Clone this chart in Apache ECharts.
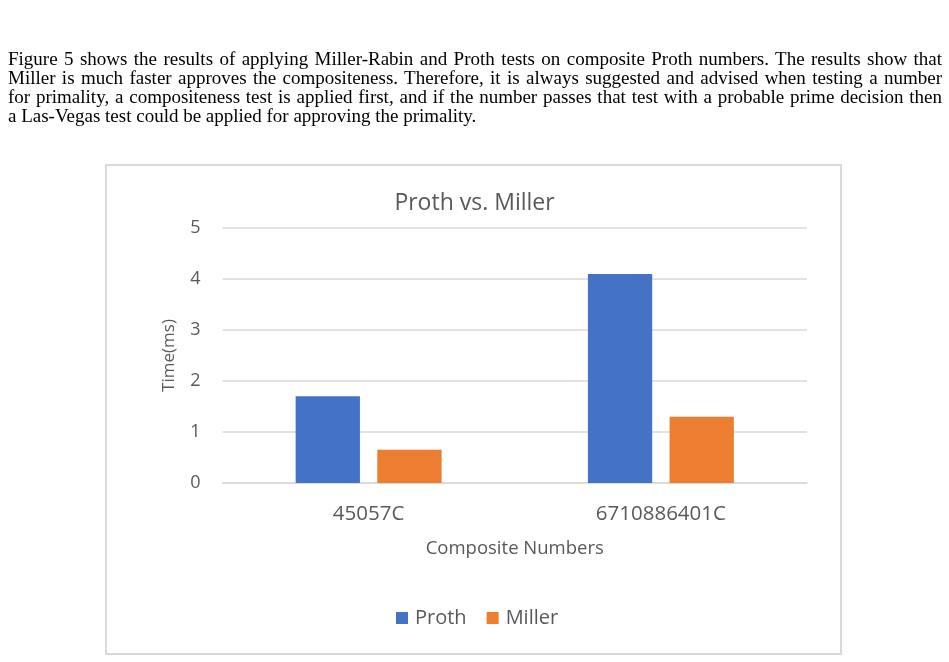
<!DOCTYPE html>
<html>
<head>
<meta charset="utf-8">
<script src="https://cdn.jsdelivr.net/npm/echarts@6/dist/echarts.min.js"></script>
<style>
  html, body { margin: 0; padding: 0; background: #fff; width: 949px; height: 662px; overflow: hidden; }
  #chart { position: absolute; left: 0; top: 0; width: 949px; height: 662px; }
  #para { position: absolute; left: 8px; top: 49px; width: 934px; font-family: "Liberation Serif", "Times New Roman", serif; font-size: 19px; line-height: 19px; color: #000; z-index: 2; }
  #para .ln { display: block; white-space: nowrap; }
</style>
</head>
<body>
<div id="chart"></div>
<div id="para"></div>
<script>
// ---- data ----
const paragraphLines = [
  "Figure 5 shows the results of applying Miller-Rabin and Proth tests on composite Proth numbers. The results show that",
  "Miller is much faster approves the compositeness. Therefore, it is always suggested and advised when testing a number",
  "for primality, a compositeness test is applied first, and if the number passes that test with a probable prime decision then",
  "a Las-Vegas test could be applied for approving the primality."
];
const chartTitle = "Proth vs. Miller";
const categories = ["45057C", "6710886401C"];
const prothValues = [1.7, 4.1];
const millerValues = [0.65, 1.3];
const xAxisName = "Composite Numbers";
const yAxisName = "Time(ms)";

// ---- paragraph (justified lines) ----
const para = document.getElementById('para');
paragraphLines.forEach((t) => {
  const s = document.createElement('span');
  s.className = 'ln';
  s.textContent = t;
  para.appendChild(s);
});
const spans = Array.from(para.querySelectorAll('.ln'));
spans.forEach((s, i) => {
  if (i === spans.length - 1) return;
  s.style.display = 'inline-block';
  const w = s.getBoundingClientRect().width;
  const n = (s.textContent.match(/ /g) || []).length;
  s.style.wordSpacing = ((934 - w) / n) + 'px';
  s.style.display = 'block';
});

// ---- chart ----
const chart = echarts.init(document.getElementById('chart'), null, { renderer: 'canvas' });
const gray = '#595959';
const font = '"Open Sans", Lato, sans-serif';
chart.setOption({
  animation: false,
  backgroundColor: 'transparent',
  title: {
    text: chartTitle,
    left: 'center',
    top: 187,
    textStyle: { fontFamily: font, fontSize: 23, fontWeight: 'normal', color: gray }
  },
  legend: {
    left: 396,
    top: 608,
    padding: 0,
    itemWidth: 12,
    itemHeight: 12,
    itemGap: 20,
    icon: 'rect',
    textStyle: { fontFamily: font, fontSize: 20, color: gray, padding: [0, 0, 0, 2] },
    data: ['Proth', 'Miller']
  },
  grid: { left: 222.5, right: 142, top: 228, bottom: 179, containLabel: false },
  xAxis: {
    type: 'category',
    data: categories,
    axisLine: { show: true, lineStyle: { color: '#d9d9d9', width: 1.5 } },
    axisTick: { show: false },
    axisLabel: { fontFamily: font, fontSize: 20.5, color: gray, margin: 21 },
    name: xAxisName,
    nameLocation: 'middle',
    nameGap: 56,
    nameTextStyle: { fontFamily: font, fontSize: 18.5, color: gray }
  },
  yAxis: {
    type: 'value',
    min: 0,
    max: 5,
    interval: 1,
    axisLine: { show: false },
    axisTick: { show: false },
    axisLabel: { fontFamily: font, fontSize: 18, color: gray, margin: 22 },
    splitLine: { lineStyle: { color: '#d9d9d9', width: 1.5 } },
    name: yAxisName,
    nameLocation: 'middle',
    nameGap: 45,
    nameRotate: 90,
    nameTextStyle: { fontFamily: font, fontSize: 17, color: gray }
  },
  series: [
    {
      name: 'Proth',
      type: 'bar',
      data: prothValues,
      barWidth: '22%',
      barGap: '27%',
      itemStyle: { color: '#4472C4' }
    },
    {
      name: 'Miller',
      type: 'bar',
      data: millerValues,
      barWidth: '22%',
      itemStyle: { color: '#ED7D31' }
    }
  ],
  graphic: [
    {
      type: 'rect',
      shape: { x: 106, y: 165, width: 735, height: 489 },
      style: { fill: 'none', stroke: '#d9d9d9', lineWidth: 2 },
      silent: true
    }
  ]
});
</script>
</body>
</html>
